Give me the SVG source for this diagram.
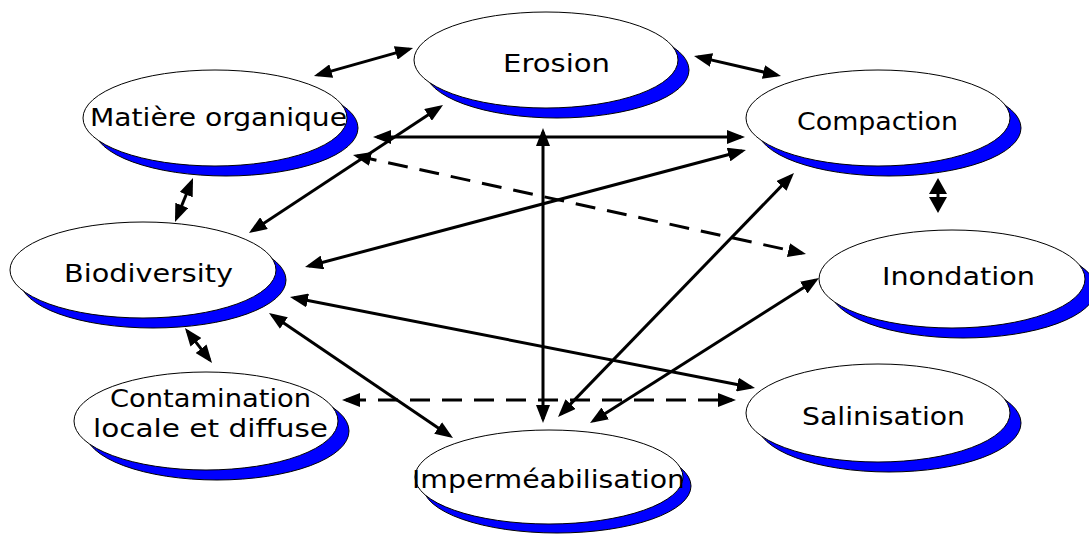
<svg xmlns="http://www.w3.org/2000/svg" width="1089" height="535" viewBox="0 0 1089 535">
<style>
.sh{fill:#0000ff;stroke:#000;stroke-width:1}
.bd{fill:#fff;stroke:#000;stroke-width:1}
.lb{font-family:"DejaVu Sans","Liberation Sans",sans-serif;font-size:24px;fill:#000}
.c{fill:none;stroke:#000;stroke-width:3;marker-start:url(#ah);marker-end:url(#ah)}
.cw{fill:none;stroke:#000;stroke-width:3;marker-start:url(#ah2);marker-end:url(#ah2)}
.d{stroke-dasharray:20 12}
</style>
<defs>
<marker id="ah" markerUnits="userSpaceOnUse" markerWidth="18" markerHeight="14" refX="14" refY="7" orient="auto-start-reverse" viewBox="0 0 18 14">
<path d="M0,0 L18,7 L0,14 z" fill="#000"/>
</marker>
<marker id="ah2" markerUnits="userSpaceOnUse" markerWidth="16" markerHeight="18" refX="12" refY="9" orient="auto-start-reverse" viewBox="0 0 16 18">
<path d="M0,0 L16,9 L0,18 z" fill="#000"/>
</marker>
</defs>
<rect width="1089" height="535" fill="#fff"/>
<g id="erosion">
<ellipse class="sh" cx="557" cy="70" rx="132" ry="48"/>
<ellipse class="bd" cx="546" cy="60" rx="132" ry="48"/>
<text class="lb" x="503" y="72" textLength="107" lengthAdjust="spacingAndGlyphs">Erosion</text>
</g>
<g id="matiere">
<ellipse class="sh" cx="226" cy="128" rx="132" ry="48"/>
<ellipse class="bd" cx="215" cy="118" rx="132" ry="48"/>
<text class="lb" x="90" y="126" textLength="257" lengthAdjust="spacingAndGlyphs">Matière organique</text>
</g>
<g id="compaction">
<ellipse class="sh" cx="889" cy="128" rx="132" ry="48"/>
<ellipse class="bd" cx="878" cy="118" rx="132" ry="48"/>
<text class="lb" x="797" y="130" textLength="161" lengthAdjust="spacingAndGlyphs">Compaction</text>
</g>
<g id="biodiversity">
<ellipse class="sh" cx="153" cy="280" rx="133" ry="48"/>
<ellipse class="bd" cx="143" cy="270" rx="133" ry="48"/>
<text class="lb" x="64" y="282" textLength="169" lengthAdjust="spacingAndGlyphs">Biodiversity</text>
</g>
<g id="inondation">
<ellipse class="sh" cx="963" cy="289" rx="133" ry="49"/>
<ellipse class="bd" cx="952" cy="279" rx="133" ry="49"/>
<text class="lb" x="882" y="285" textLength="153" lengthAdjust="spacingAndGlyphs">Inondation</text>
</g>
<g id="contamination">
<ellipse class="sh" cx="217" cy="431" rx="132" ry="49"/>
<ellipse class="bd" cx="206" cy="421" rx="132" ry="49"/>
<text class="lb" x="110" y="407" textLength="201" lengthAdjust="spacingAndGlyphs">Contamination</text>
<text class="lb" x="93" y="437" textLength="235" lengthAdjust="spacingAndGlyphs">locale et diffuse</text>
</g>
<g id="salinisation">
<ellipse class="sh" cx="889" cy="423" rx="132" ry="49"/>
<ellipse class="bd" cx="878" cy="413" rx="132" ry="49"/>
<text class="lb" x="802" y="425" textLength="163" lengthAdjust="spacingAndGlyphs">Salinisation</text>
</g>
<g id="impermeabilisation">
<ellipse class="sh" cx="557" cy="486" rx="134" ry="47"/>
<ellipse class="bd" cx="549" cy="477" rx="134" ry="47"/>
<text class="lb" x="412" y="488" textLength="273" lengthAdjust="spacingAndGlyphs">Imperméabilisation</text>
</g>
<g id="connectors">
<path class="c" d="M317.8,74.9 L409.2,49.1"/>
<path class="c" d="M697.9,56.9 L777.1,75.1"/>
<path class="cw" d="M938,182 L938,209"/>
<path class="c" d="M191.5,181.7 L176.5,218.3"/>
<path class="c" d="M187.4,331.2 L209.6,359.8"/>
<path class="c" d="M252.3,230.8 L439.7,107.2"/>
<path class="c" d="M377,137 L741,137"/>
<path class="c d" d="M356.9,155.9 L802.1,253.1"/>
<path class="c" d="M308.9,266 L742.1,151"/>
<path class="c" d="M543,132 L543,419"/>
<path class="c" d="M293.9,297.8 L751.1,387.2"/>
<path class="c" d="M272.3,315.2 L449.7,435.8"/>
<path class="c d" d="M346,400 L732,400"/>
<path class="c" d="M791.2,175.9 L560.8,414.1"/>
<path class="c" d="M815.6,280.1 L593.4,420.9"/>
</g>
</svg>
